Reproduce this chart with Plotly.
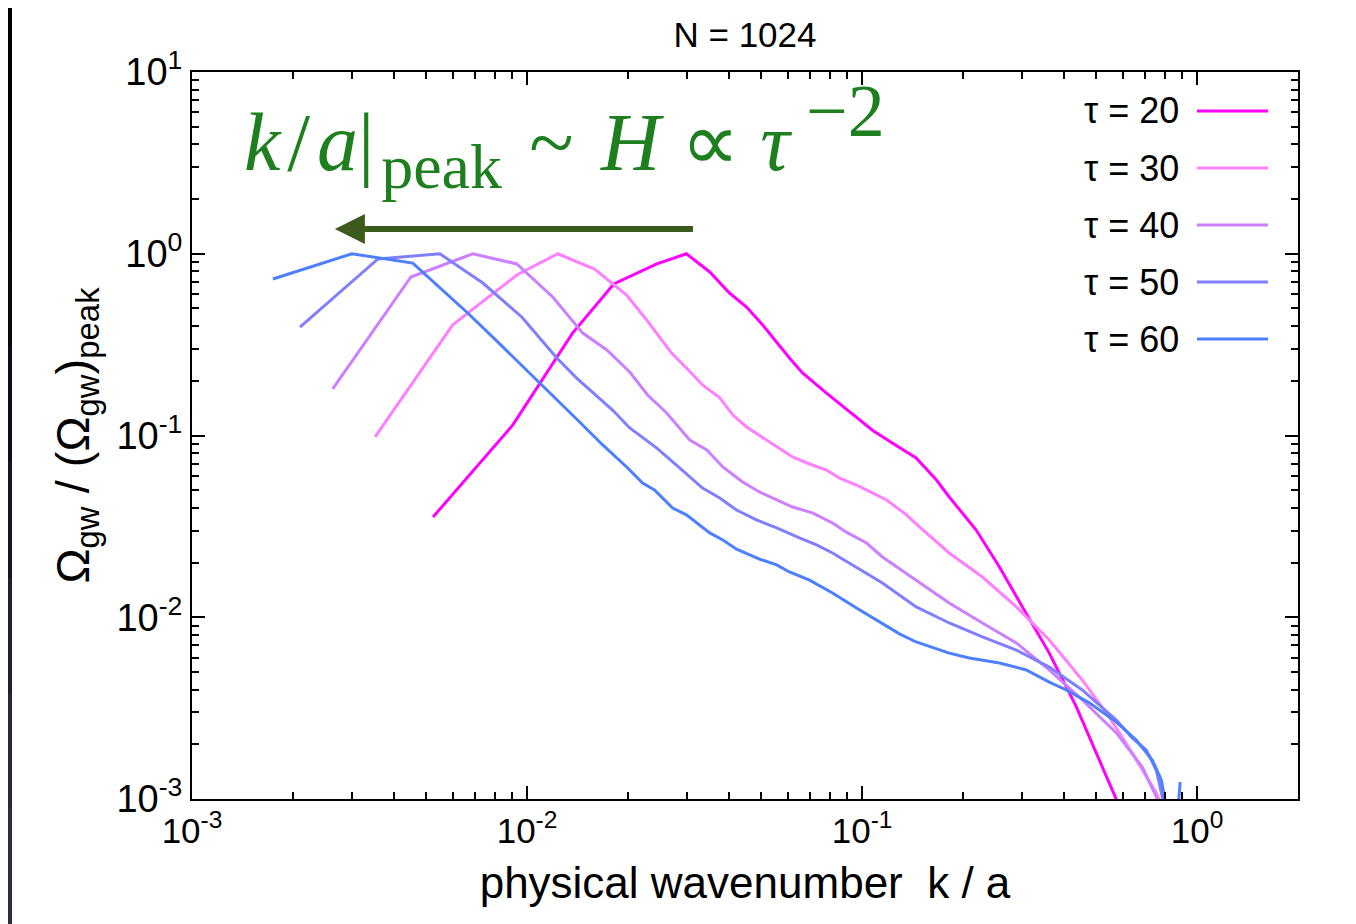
import math
import plotly.graph_objects as go

# ---------------- data ----------------
taus = [20, 30, 40, 50, 60]

k_tau20 = [0.00524, 0.00906, 0.01367, 0.01815, 0.0244, 0.0299, 0.0351, 0.0402, 0.0452, 0.0505,
           0.0607, 0.0664, 0.0783, 0.0917, 0.1074, 0.123, 0.145, 0.1667, 0.182, 0.219,
           0.257, 0.301, 0.362, 0.436, 0.574, 0.586]
w_tau20 = [0.0356, 0.114, 0.366, 0.682, 0.879, 1.0, 0.794, 0.608, 0.509, 0.406,
           0.267, 0.221, 0.171, 0.1346, 0.107, 0.091, 0.0752, 0.0569, 0.0459, 0.0302,
           0.0189, 0.0114, 0.00635, 0.00321, 0.00101, 0.00091]

k_tau30 = [0.00352, 0.0060, 0.00932, 0.01235, 0.0159, 0.01982, 0.02275, 0.0270, 0.0299, 0.0334,
           0.0376, 0.0411, 0.0452, 0.0519, 0.0620, 0.0697, 0.0783, 0.0857, 0.0962, 0.1074,
           0.1183, 0.1356, 0.1483, 0.182, 0.2286, 0.2887, 0.362, 0.454, 0.547, 0.640,
           0.755, 0.770]
w_tau30 = [0.0982, 0.406, 0.764, 1.0, 0.824, 0.593, 0.432, 0.284, 0.235, 0.190,
           0.161, 0.130, 0.1114, 0.0944, 0.0762, 0.0697, 0.0646, 0.0583, 0.0534, 0.0483,
           0.0442, 0.0366, 0.0314, 0.02257, 0.01665, 0.0114, 0.0075, 0.00452, 0.00282, 0.00179,
           0.00108, 0.00099]

k_tau40 = [0.00263, 0.0045, 0.00689, 0.00932, 0.01193, 0.01466, 0.0173, 0.02025, 0.0229, 0.0261,
           0.0306, 0.0344, 0.0384, 0.0440, 0.0494, 0.0556, 0.0620, 0.0711, 0.0816, 0.0898,
           0.1031, 0.115, 0.145, 0.182, 0.2286, 0.2887, 0.362, 0.454, 0.574, 0.686,
           0.755, 0.760]
w_tau40 = [0.1803, 0.745, 1.0, 0.879, 0.578, 0.366, 0.2954, 0.2236, 0.167, 0.133,
           0.0944, 0.0832, 0.0671, 0.0555, 0.0489, 0.0442, 0.0404, 0.0375, 0.0330, 0.0294,
           0.0256, 0.02146, 0.0160, 0.01198, 0.0093, 0.00722, 0.00513, 0.00351, 0.00231, 0.0015,
           0.00103, 0.00096]

k_tau50 = [0.0021, 0.00359, 0.00549, 0.00738, 0.00964, 0.01227, 0.01406, 0.0157, 0.0180, 0.02025,
           0.0244, 0.02853, 0.0334, 0.0376, 0.0422, 0.0484, 0.0556, 0.0650, 0.0731, 0.0816,
           0.0917, 0.1031, 0.115, 0.145, 0.182, 0.2286, 0.2887, 0.362, 0.454, 0.574,
           0.640, 0.705, 0.755, 0.787, 0.790]
w_tau50 = [0.395, 0.936, 1.0, 0.690, 0.449, 0.267, 0.207, 0.1735, 0.138, 0.110,
           0.0853, 0.0663, 0.0514, 0.0453, 0.0389, 0.0343, 0.0310, 0.0273, 0.0250, 0.02257,
           0.0199, 0.0175, 0.01543, 0.0114, 0.0093, 0.00779, 0.0066, 0.00532, 0.00398, 0.00272,
           0.00217, 0.00186, 0.00144, 0.00103, 0.00094]

k_tau60 = [0.001744, 0.0030, 0.00456, 0.0066, 0.0079, 0.00998, 0.01169, 0.01435, 0.01682, 0.01983,
           0.02213, 0.0240, 0.0272, 0.0299, 0.0351, 0.0384, 0.0422, 0.0494, 0.0556, 0.0607,
           0.0697, 0.0816, 0.0962, 0.1104, 0.1293, 0.145, 0.182, 0.209, 0.257, 0.309,
           0.362, 0.407, 0.4766, 0.574, 0.658, 0.735, 0.782, 0.855, 0.890]
w_tau60 = [0.726, 1.0, 0.889, 0.478, 0.348, 0.229, 0.1714, 0.1187, 0.0887, 0.0671,
           0.0548, 0.0501, 0.0399, 0.0366, 0.0291, 0.0266, 0.0237, 0.0209, 0.0194, 0.01774,
           0.0160, 0.0136, 0.01125, 0.00966, 0.0081, 0.00731, 0.00635, 0.00597, 0.0056, 0.00513,
           0.0044, 0.00398, 0.00338, 0.00265, 0.00211, 0.00164, 0.00127, 0.0005, 0.00124]

x_tickvals = [1e-3, 1e-2, 1e-1, 1e0]
x_ticktext = ["10<sup>-3</sup>", "10<sup>-2</sup>", "10<sup>-1</sup>", "10<sup>0</sup>"]
y_tickvals = [1e-3, 1e-2, 1e-1, 1e0, 1e1]
y_ticktext = ["10<sup>-3</sup>", "10<sup>-2</sup>", "10<sup>-1</sup>", "10<sup>0</sup>", "10<sup>1</sup>"]

# arrow of the peak drift (data coordinates)
arrow_k_from = 0.0316
arrow_k_to = 0.00267
arrow_level = 1.37

# ---------------- styling ----------------
colors = ["#ff00ff", "#ff80ff", "#cc80ff", "#8080ff", "#4d80ff"]
series_k = [k_tau20, k_tau30, k_tau40, k_tau50, k_tau60]
series_w = [w_tau20, w_tau30, w_tau40, w_tau50, w_tau60]
FONT = "Liberation Sans, Arial, Helvetica, sans-serif"

OFF = 8                      # page offset of the figure (body margin)
W, H = 1348, 916             # figure size
PL, PR, PT, PB = 192, 1298, 72, 799   # plot box in page pixels
L = PL - OFF
R = W - (PR - OFF)
T = PT - OFF
B = H - (PB - OFF)
pw, ph = W - L - R, H - T - B


def px_x(p):
    return (p - OFF - L) / pw


def px_y(p):
    return (H - B - (p - OFF)) / ph


fig = go.Figure()
for t, k, w, c in zip(taus, series_k, series_w, colors):
    fig.add_trace(go.Scatter(x=k, y=w, mode="lines", name=f"τ = {t}",
                             line=dict(color=c, width=3), showlegend=False))

shapes = []
# page background: white sheet on a dark frame
shapes.append(dict(type="rect", xref="paper", yref="paper", layer="below",
                   x0=px_x(12), x1=px_x(W + 40), y0=px_y(H + 40), y1=px_y(7),
                   fillcolor="white", line=dict(width=0)))
band_cols = ["#000000", "#03030c", "#070714", "#0c0d1c", "#141626", "#1d1f2f", "#262838", "#2c2e3e"]
nb = len(band_cols)
for i, bc in enumerate(band_cols):
    y0p = (H + OFF) * i / nb
    y1p = (H + OFF) * (i + 1) / nb
    shapes.append(dict(type="rect", xref="paper", yref="paper", layer="below",
                       x0=px_x(0), x1=px_x(12), y0=px_y(y1p + 1), y1=px_y(y0p),
                       fillcolor=bc, line=dict(width=0)))

annotations = []
# manual key: text on the left, line sample on the right
for i, (t, c) in enumerate(zip(taus, colors)):
    yrow = 111 + 57 * i
    annotations.append(dict(xref="paper", yref="paper", x=px_x(1181), y=px_y(yrow),
                            xanchor="right", yanchor="middle", showarrow=False,
                            text=f"τ = {t}", font=dict(family=FONT, size=36, color="black")))
    shapes.append(dict(type="line", xref="paper", yref="paper",
                       x0=px_x(1197), x1=px_x(1268), y0=px_y(yrow), y1=px_y(yrow),
                       line=dict(color=c, width=3)))

# formula text
formula = ("<i>k</i>\u200a/\u200a<i>a</i>|\u200a"
           "<sub><span style='font-size:64px'>peak</span></sub>"
           "&nbsp;\u200a~&nbsp;\u200a<i>H</i>&nbsp;∝&nbsp;<i>τ</i>\u2009"
           "<sup><span style='font-size:74px'>−2</span></sup>")
annotations.append(dict(xref="paper", yref="paper", x=px_x(242), y=px_y(136),
                        xanchor="left", yanchor="middle", showarrow=False,
                        text=formula,
                        font=dict(family="Liberation Serif, Times New Roman, serif", size=82,
                                  color="#1d7f1d")))
# arrow
annotations.append(dict(xref="x", yref="y", axref="x", ayref="y",
                        x=math.log10(arrow_k_to), y=math.log10(arrow_level),
                        ax=math.log10(arrow_k_from), ay=math.log10(arrow_level),
                        text="", showarrow=True, arrowhead=2, arrowsize=1.0, arrowwidth=6,
                        arrowcolor="#3c5a1c"))

axis_common = dict(type="log", showgrid=False, zeroline=False, showline=True, linewidth=2,
                   linecolor="black", mirror="ticks", ticks="inside", ticklen=13, tickwidth=1.5,
                   tickcolor="black", tickmode="array",
                   minor=dict(ticks="inside", ticklen=7, tickwidth=1.5, tickcolor="black",
                              dtick="D1", showgrid=False))

fig.update_layout(
    width=W, height=H,
    margin=dict(l=L, r=R, t=T, b=B, autoexpand=False),
    paper_bgcolor="#000000", plot_bgcolor="white",
    shapes=shapes, annotations=annotations, showlegend=False,
    title=dict(text="N = 1024", x=0.5, xref="paper", xanchor="center",
               y=1 - (35 - OFF) / H, yref="container", yanchor="middle",
               font=dict(family=FONT, size=35, color="black")),
    xaxis=dict(axis_common, range=[-3, math.log10(2.0)], tickvals=x_tickvals, ticktext=x_ticktext,
               tickfont=dict(family=FONT, size=35, color="black"),
               title=dict(text="physical wavenumber&nbsp; k / a", standoff=18,
                          font=dict(family=FONT, size=44, color="black"))),
    yaxis=dict(axis_common, range=[-3, 1], tickvals=y_tickvals, ticktext=y_ticktext,
               tickfont=dict(family=FONT, size=38, color="black"),
               title=dict(text="Ω<sub>gw</sub> / (Ω<sub>gw</sub>)<sub>peak</sub>", standoff=12,
                          font=dict(family=FONT, size=47, color="black"))),
)

fig.write_html("out.html")
